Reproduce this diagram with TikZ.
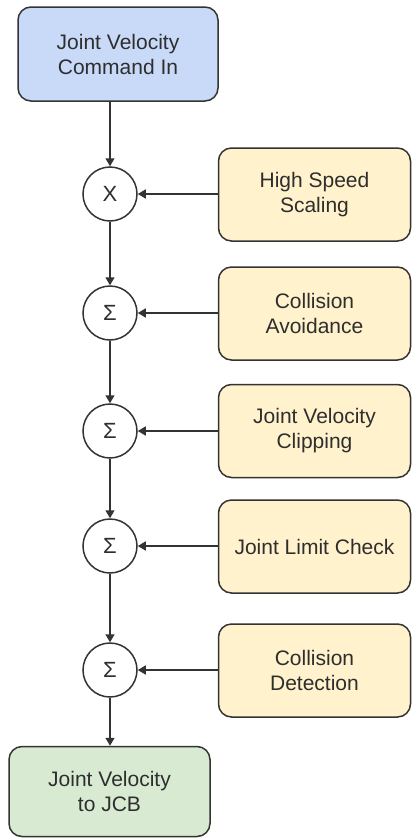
\documentclass[tikz,border=0pt]{standalone}
\usepackage{fontspec}
\setmainfont{Liberation Sans}
\usetikzlibrary{arrows.meta}
\definecolor{txt}{HTML}{2E2E2E}
\definecolor{edge}{HTML}{333333}
\definecolor{bluefill}{HTML}{C9DAF8}
\definecolor{yellowfill}{HTML}{FFF2CC}
\definecolor{greenfill}{HTML}{D9EAD3}
\tikzset{
  blk/.style={draw=edge, line width=1.5pt, rounded corners=13pt, align=center,
    text=txt, font=\fontsize{21}{25}\selectfont, inner sep=0pt},
  side/.style={blk, fill=yellowfill, minimum width=192pt, minimum height=93pt},
  junc/.style={circle, draw=edge, line width=1.5pt, minimum size=54pt, inner sep=0pt,
    text=txt, font=\fontsize{22}{26}\selectfont, fill=white},
  arr/.style={draw=edge, line width=1.5pt, -{Triangle[length=8pt, width=9pt]}}
}
\begin{document}
\begin{tikzpicture}[x=1pt, y=-1pt]
\useasboundingbox (0,0) rectangle (412,838);
\node[blk, fill=bluefill, minimum width=200pt, minimum height=94pt] (in) at (118,54) {Joint Velocity\\Command In};
\node[blk, fill=greenfill, minimum width=201pt, minimum height=90pt] (out) at (109.5,791.5) {Joint Velocity\\to JCB};

\node[junc] (c0) at (110,194) {X};
\node[junc] (c1) at (110,313) {Σ};
\node[junc] (c2) at (110,431) {Σ};
\node[junc] (c3) at (110,546) {Σ};
\node[junc] (c4) at (110,670) {Σ};

\node[side] (s0) at (314.5,194.5) {High Speed\\Scaling};
\node[side] (s1) at (314.5,313.5) {Collision\\Avoidance};
\node[side] (s2) at (314.5,431) {Joint Velocity\\Clipping};
\node[side] (s3) at (314.5,546.5) {Joint Limit Check};
\node[side] (s4) at (314.5,670.5) {Collision\\Detection};

\draw[arr] (in.south -| c0) -- (c0.north);
\draw[arr] (c0.south) -- (c1.north);
\draw[arr] (c1.south) -- (c2.north);
\draw[arr] (c2.south) -- (c3.north);
\draw[arr] (c3.south) -- (c4.north);
\draw[arr] (c4.south) -- (out.north -| c4);

\draw[arr] (s0.west |- c0) -- (c0.east);
\draw[arr] (s1.west |- c1) -- (c1.east);
\draw[arr] (s2.west |- c2) -- (c2.east);
\draw[arr] (s3.west |- c3) -- (c3.east);
\draw[arr] (s4.west |- c4) -- (c4.east);
\end{tikzpicture}
\end{document}
